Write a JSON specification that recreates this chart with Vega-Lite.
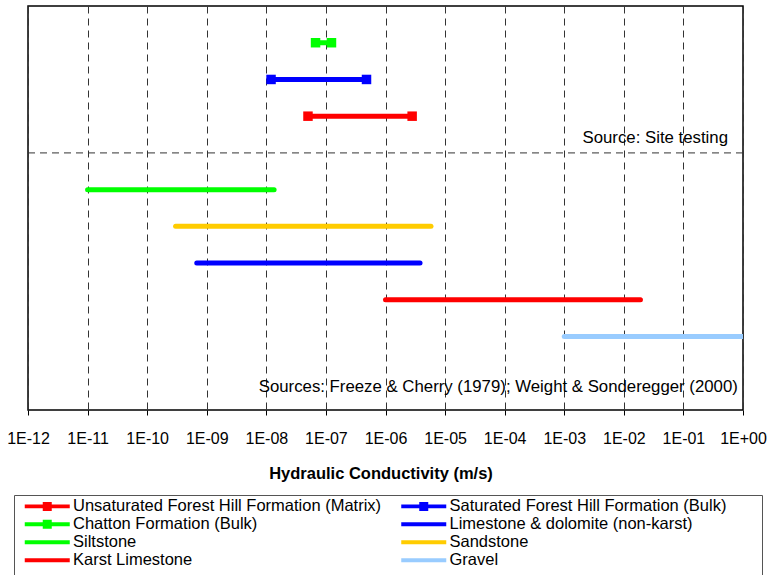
{
  "$schema": "https://vega.github.io/schema/vega-lite/v6.json",
  "width": 715,
  "height": 404,
  "autosize": {"type": "none"},
  "padding": {"left": 28, "top": 6, "right": 24, "bottom": 165},
  "background": "white",
  "config": {
    "font": "Liberation Sans",
    "view": {"stroke": "#000", "strokeWidth": 1.5}
  },
  "datasets": {
    "ranges": [
      {"series": "Unsaturated Forest Hill Formation (Matrix)", "k": 5.0e-8, "row": 8},
      {"series": "Unsaturated Forest Hill Formation (Matrix)", "k": 2.8e-6, "row": 8},
      {"series": "Saturated Forest Hill Formation (Bulk)", "k": 1.2e-8, "row": 9},
      {"series": "Saturated Forest Hill Formation (Bulk)", "k": 4.8e-7, "row": 9},
      {"series": "Chatton Formation (Bulk)", "k": 6.7e-8, "row": 10},
      {"series": "Chatton Formation (Bulk)", "k": 1.24e-7, "row": 10},
      {"series": "Siltstone", "k": 1.0e-11, "row": 6},
      {"series": "Siltstone", "k": 1.35e-8, "row": 6},
      {"series": "Sandstone", "k": 3.0e-10, "row": 5},
      {"series": "Sandstone", "k": 5.8e-6, "row": 5},
      {"series": "Limestone & dolomite (non-karst)", "k": 6.8e-10, "row": 4},
      {"series": "Limestone & dolomite (non-karst)", "k": 3.8e-6, "row": 4},
      {"series": "Karst Limestone", "k": 1.0e-6, "row": 3},
      {"series": "Karst Limestone", "k": 1.9e-2, "row": 3},
      {"series": "Gravel", "k": 1.0e-3, "row": 2},
      {"series": "Gravel", "k": 1.0, "row": 2}
    ],
    "notes": [
      {"text": "Source: Site testing", "k": 0.56, "row": 7.27},
      {"text": "Sources: Freeze & Cherry (1979); Weight & Sonderegger (2000)", "k": 0.82, "row": 0.49}
    ],
    "divider": [{"row": 7}]
  },
  "layer": [
    {
      "data": {"name": "divider"},
      "mark": {"type": "rule", "color": "#333", "strokeDash": [7, 5], "strokeWidth": 1},
      "encoding": {
        "y": {"field": "row", "type": "quantitative", "scale": {"domain": [0, 11], "nice": false, "zero": true}, "axis": null}
      }
    },
    {
      "data": {"name": "ranges"},
      "mark": {"type": "line", "strokeWidth": 5, "strokeCap": "round", "clip": true},
      "encoding": {
        "x": {
          "field": "k", "type": "quantitative",
          "scale": {"type": "log", "domain": [1e-12, 1], "nice": false},
          "axis": {
            "values": [1e-12, 1e-11, 1e-10, 1e-9, 1e-8, 1e-7, 1e-6, 1e-5, 1e-4, 1e-3, 1e-2, 1e-1, 1],
            "labelExpr": "'1E' + (datum.value < 0.5 ? '-' : '+') + pad(toString(abs(round(log(datum.value) / LN10))), 2, '0', 'left')",
            "title": "Hydraulic Conductivity (m/s)",
            "titleFontSize": 16.5,
            "titleFontWeight": "bold",
            "titleColor": "#000",
            "titleBaseline": "alphabetic",
            "titleY": 68,
            "titleX": 352.5,
            "titleAlign": "center",
            "labelFontSize": 16,
            "labelColor": "#000",
            "labelBaseline": "alphabetic",
            "labelPadding": 28,
            "labelFlush": false,
            "labelOverlap": false,
            "tickSize": 5,
            "tickColor": "#000",
            "domain": false,
            "grid": true,
            "gridColor": "#333",
            "gridDash": [7, 5],
            "gridWidth": 1
          }
        },
        "y": {"field": "row", "type": "quantitative", "scale": {"domain": [0, 11], "nice": false}, "axis": null},
        "color": {
          "field": "series", "type": "nominal",
          "scale": {
            "domain": [
              "Unsaturated Forest Hill Formation (Matrix)",
              "Chatton Formation (Bulk)",
              "Siltstone",
              "Karst Limestone",
              "Saturated Forest Hill Formation (Bulk)",
              "Limestone & dolomite (non-karst)",
              "Sandstone",
              "Gravel"
            ],
            "range": ["#ff0000", "#00ff00", "#00ff00", "#ff0000", "#0000ff", "#0000ff", "#ffcc00", "#99ccff"]
          },
          "legend": {
            "title": null,
            "orient": "none",
            "legendX": -14,
            "legendY": 489,
            "direction": "vertical",
            "columns": 2,
            "padding": 3,
            "rowPadding": 1,
            "columnPadding": 11.5,
            "symbolSize": 81,
            "symbolOffset": 4,
            "labelOffset": 35.5,
            "labelFontSize": 16.5,
            "labelColor": "#000",
            "labelLimit": 500,
            "strokeColor": "#555",
            "fillColor": "#fff",
            "encode": {
              "symbols": {
                "update": {
                  "shape": {"signal": "(indexof(['Unsaturated Forest Hill Formation (Matrix)', 'Chatton Formation (Bulk)', 'Saturated Forest Hill Formation (Bulk)'], datum.value) >= 0 ? 'M-1,-0.44H9V0.44H-1Z M3,-1H5V1H3Z' : 'M-1,-0.44H9V0.44H-1Z') + (datum.index >= 4 ? ' M78.5,0' : '') + (datum.index == 7 ? ' M0,4' : '')"},
                  "fill": {"scale": "color", "field": "value"},
                  "stroke": {"value": "transparent"},
                  "strokeWidth": {"value": 0},
                  "opacity": {"value": 1}
                }
              }
            }
          }
        }
      }
    },
    {
      "data": {"name": "ranges"},
      "transform": [
        {"filter": "indexof(['Unsaturated Forest Hill Formation (Matrix)', 'Chatton Formation (Bulk)', 'Saturated Forest Hill Formation (Bulk)'], datum.series) >= 0"}
      ],
      "mark": {"type": "point", "shape": "square", "filled": true, "size": 90, "opacity": 1},
      "encoding": {
        "x": {"field": "k", "type": "quantitative"},
        "y": {"field": "row", "type": "quantitative"},
        "color": {"field": "series", "type": "nominal"}
      }
    },
    {
      "data": {"name": "notes"},
      "mark": {"type": "text", "align": "right", "baseline": "alphabetic", "fontSize": 16.8, "color": "#000"},
      "encoding": {
        "x": {"field": "k", "type": "quantitative"},
        "y": {"field": "row", "type": "quantitative"},
        "text": {"field": "text"}
      }
    }
  ]
}
